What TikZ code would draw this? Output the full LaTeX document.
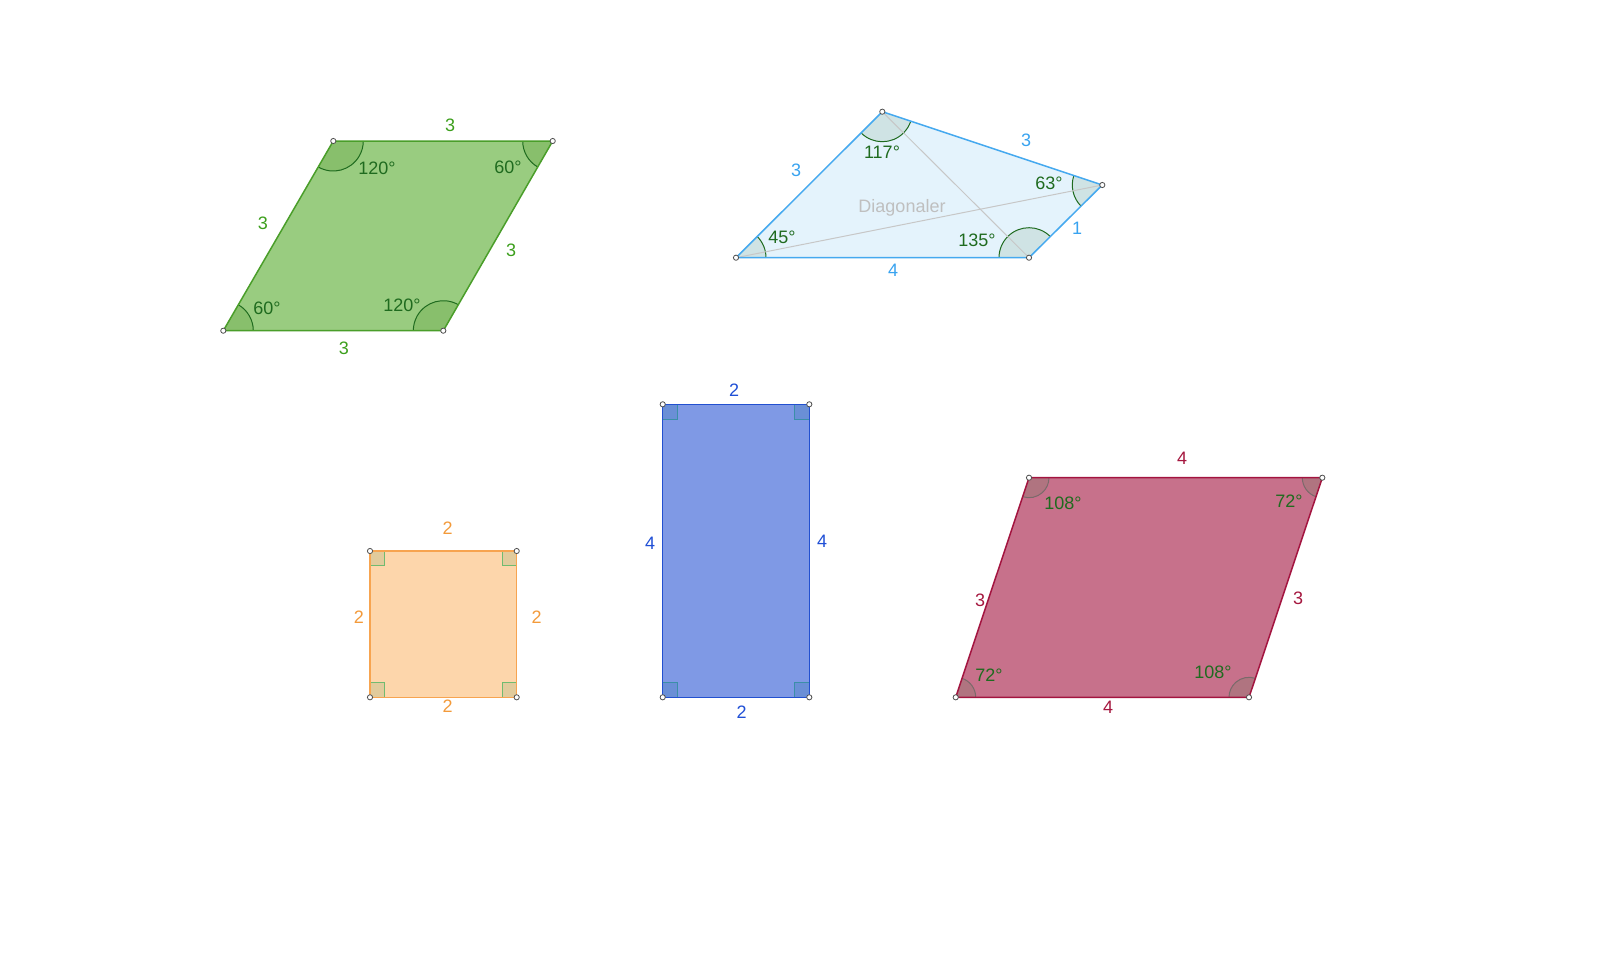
\documentclass[tikz,border=0pt]{standalone}
\usepackage{fontspec}
\setmainfont{Liberation Sans}
\usetikzlibrary{angles}
\definecolor{gfill}{HTML}{99CC80}
\definecolor{gline}{HTML}{4A9E2A}
\definecolor{glab}{HTML}{3C9F1C}
\definecolor{garc}{HTML}{88BF6C}
\definecolor{adark}{HTML}{1F6B1F}
\definecolor{bfill}{HTML}{E4F3FC}
\definecolor{bline}{HTML}{45A9EF}
\definecolor{blab}{HTML}{38A3F0}
\definecolor{barc}{HTML}{CFE3E4}
\definecolor{ofill}{HTML}{FDD6AB}
\definecolor{oline}{HTML}{F7A450}
\definecolor{olab}{HTML}{F39A3A}
\definecolor{omark}{HTML}{E1CB9C}
\definecolor{omarkl}{HTML}{70BB70}
\definecolor{rfill}{HTML}{7F99E5}
\definecolor{rline}{HTML}{2250D0}
\definecolor{rlab}{HTML}{1F4FD6}
\definecolor{rmark}{HTML}{6A8FD6}
\definecolor{rmarkl}{HTML}{3B8FA8}
\definecolor{pfill}{HTML}{C7718B}
\definecolor{pline}{HTML}{A3143F}
\definecolor{plab}{HTML}{A5173F}
\definecolor{parc}{HTML}{B07480}
\definecolor{parcl}{HTML}{7A6A6A}
\tikzset{
  lab/.style={font=\fontsize{9}{10}\selectfont, inner sep=0pt},
  anglab/.style={lab, text=adark},
  pt/.style={circle, draw=black!70, fill=white, line width=0.4pt, inner sep=0pt, minimum size=2.6pt},
  edge/.style={line width=0.75pt, line join=round},
  garcs/.style={draw=adark, fill=garc, line width=0.5pt, angle radius=15pt},
  barcs/.style={draw=adark, fill=barc, line width=0.5pt, angle radius=15pt},
  parcs/.style={draw=parcl, fill=parc, line width=0.5pt, angle radius=10pt},
}
\begin{document}
\begin{tikzpicture}[x=0.5pt, y=-0.5pt]
\useasboundingbox (0,0) rectangle (1600,959);
\fill[white] (0,0) rectangle (1600,959);

% ---------- green rhombus ----------
\coordinate (A) at (223.3,330.7);
\coordinate (B) at (443.3,330.7);
\coordinate (C) at (552.7,141);
\coordinate (D) at (333.3,141);
\fill[gfill] (A) -- (B) -- (C) -- (D) -- cycle;
\pic[garcs] {angle = B--A--D};
\pic[garcs] {angle = C--B--A};
\pic[garcs] {angle = D--C--B};
\pic[garcs] {angle = A--D--C};
\draw[edge, gline] (A) -- (B) -- (C) -- (D) -- cycle;
\node[lab, text=glab] (g1) at (450,125) {3};
\node[lab, text=glab] (g2) at (263,223) {3};
\node[lab, text=glab] (g3) at (511,250) {3};
\node[lab, text=glab] (g4) at (344,348) {3};
\node[anglab] (ga1) at (377,168) {120°};
\node[anglab] (ga2) at (508,167) {60°};
\node[anglab] (ga3) at (267,308) {60°};
\node[anglab] (ga4) at (402,305) {120°};
\foreach \p in {A,B,C,D} \node[pt] at (\p) {};

% ---------- light blue quadrilateral ----------
\coordinate (P) at (736,257.7);
\coordinate (Q) at (1029,257.7);
\coordinate (R) at (1102.3,185);
\coordinate (S) at (882.3,111.7);
\fill[bfill] (P) -- (Q) -- (R) -- (S) -- cycle;
\pic[barcs] {angle = Q--P--S};
\pic[barcs] {angle = R--Q--P};
\pic[barcs] {angle = S--R--Q};
\pic[barcs] {angle = P--S--R};
\draw[line width=0.5pt, black!22] (P) -- (R);
\draw[line width=0.5pt, black!22] (S) -- (Q);
\draw[edge, bline] (P) -- (Q) -- (R) -- (S) -- cycle;
\node[lab, text=black!25] (diag) at (902,208) {Diagonaler};
\node[lab, text=blab] (b1) at (796,170) {3};
\node[lab, text=blab] (b2) at (1026,140) {3};
\node[lab, text=blab] (b3) at (1077,228) {1};
\node[lab, text=blab] (b4) at (893,270) {4};
\node[anglab] (ba1) at (882,152) {117°};
\node[anglab] (ba2) at (1049,183) {63°};
\node[anglab] (ba3) at (782,237) {45°};
\node[anglab] (ba4) at (977,240) {135°};
\foreach \p in {P,Q,R,S} \node[pt] at (\p) {};

% ---------- orange square ----------
\coordinate (K1) at (370,697.3);
\coordinate (K2) at (516.7,697.3);
\coordinate (K3) at (516.7,551);
\coordinate (K4) at (370,551);
\fill[ofill] (K1) -- (K2) -- (K3) -- (K4) -- cycle;
\foreach \p/\sx/\sy in {K1/1/-1, K2/-1/-1, K3/-1/1, K4/1/1}
  \draw[fill=omark, draw=omarkl, line width=0.5pt] (\p) rectangle ++(14.7*\sx,14.7*\sy);
\draw[edge, oline] (K1) -- (K2) -- (K3) -- (K4) -- cycle;
\node[lab, text=olab] (o1) at (447.7,528.3) {2};
\node[lab, text=olab] (o2) at (359,617) {2};
\node[lab, text=olab] (o3) at (536.7,617) {2};
\node[lab, text=olab] (o4) at (447.7,706) {2};
\foreach \p in {K1,K2,K3,K4} \node[pt] at (\p) {};

% ---------- blue rectangle ----------
\coordinate (L1) at (662.7,697.3);
\coordinate (L2) at (809.3,697.3);
\coordinate (L3) at (809.3,404.3);
\coordinate (L4) at (662.7,404.3);
\fill[rfill] (L1) -- (L2) -- (L3) -- (L4) -- cycle;
\foreach \p/\sx/\sy in {L1/1/-1, L2/-1/-1, L3/-1/1, L4/1/1}
  \draw[fill=rmark, draw=rmarkl, line width=0.5pt] (\p) rectangle ++(14.7*\sx,14.7*\sy);
\draw[edge, rline] (L1) -- (L2) -- (L3) -- (L4) -- cycle;
\node[lab, text=rlab] (r1) at (734,390) {2};
\node[lab, text=rlab] (r2) at (650,543) {4};
\node[lab, text=rlab] (r3) at (822,541) {4};
\node[lab, text=rlab] (r4) at (741.5,712) {2};
\foreach \p in {L1,L2,L3,L4} \node[pt] at (\p) {};

% ---------- red parallelogram ----------
\coordinate (E) at (955.7,697.3);
\coordinate (F) at (1249,697.3);
\coordinate (G) at (1322.3,477.7);
\coordinate (H) at (1029,477.7);
\fill[pfill] (E) -- (F) -- (G) -- (H) -- cycle;
\pic[parcs] {angle = F--E--H};
\pic[parcs] {angle = G--F--E};
\pic[parcs] {angle = H--G--F};
\pic[parcs] {angle = E--H--G};
\draw[edge, pline] (E) -- (F) -- (G) -- (H) -- cycle;
\node[lab, text=plab] (p1) at (1182,458) {4};
\node[lab, text=plab] (p2) at (980,600) {3};
\node[lab, text=plab] (p3) at (1298,598) {3};
\node[lab, text=plab] (p4) at (1108,707) {4};
\node[anglab] (pa1) at (1063,503) {108°};
\node[anglab] (pa2) at (1289,501) {72°};
\node[anglab] (pa3) at (989,675) {72°};
\node[anglab] (pa4) at (1213,672) {108°};
\foreach \p in {E,F,G,H} \node[pt] at (\p) {};
\end{tikzpicture}
\end{document}
